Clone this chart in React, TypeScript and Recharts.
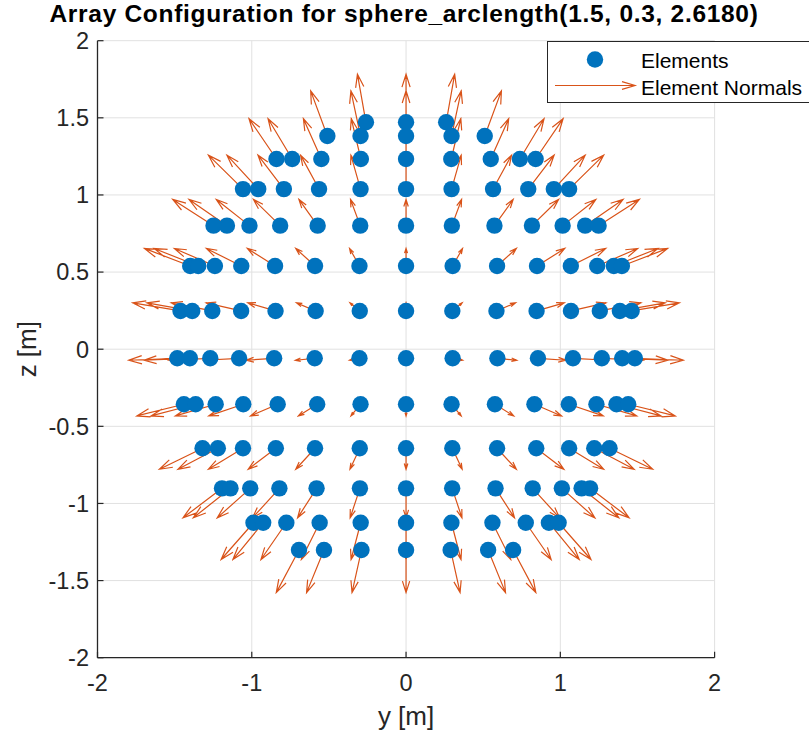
import { ComposedChart, Scatter, Line, XAxis, YAxis, CartesianGrid, Legend, Label } from "recharts";

const BLUE = "#0072BD";
const ORANGE = "#D95319";
const AXIS = "#262626";
const GRID = "#e1e1e1";
const FONT = '"Liberation Sans", Arial, Helvetica, sans-serif';

// z height of each ring of elements (top to bottom)
const ROW_Z = [1.471, 1.382, 1.233, 1.038, 0.801, 0.539, 0.248, -0.059, -0.357, -0.642, -0.902, -1.125, -1.302];

// y positions of the elements in each ring
const ROW_1 = [-0.26, 0, 0.26];
const ROW_2 = [-0.51, -0.295, 0, 0.295, 0.51];
const ROW_3 = [-0.84, -0.738, -0.549, -0.293, 0, 0.293, 0.549, 0.738, 0.84];
const ROW_4 = [-1.057, -0.958, -0.792, -0.564, -0.295, 0, 0.295, 0.564, 0.792, 0.958, 1.057];
const ROW_5 = [-1.248, -1.161, -1.015, -0.816, -0.573, -0.297, 0, 0.297, 0.573, 0.816, 1.015, 1.161, 1.248];
const ROW_6 = [-1.399, -1.347, -1.239, -1.068, -0.849, -0.59, -0.302, 0, 0.302, 0.59, 0.849, 1.068, 1.239, 1.347, 1.399];
const ROW_7 = [-1.462, -1.386, -1.256, -1.069, -0.846, -0.586, -0.3, 0, 0.3, 0.586, 0.846, 1.069, 1.256, 1.386, 1.462];
const ROW_8 = [-1.483, -1.401, -1.269, -1.082, -0.855, -0.592, -0.302, 0, 0.302, 0.592, 0.855, 1.082, 1.269, 1.401, 1.483];
const ROW_9 = [-1.44, -1.364, -1.234, -1.055, -0.832, -0.576, -0.295, 0, 0.295, 0.576, 0.832, 1.055, 1.234, 1.364, 1.44];
const ROW_10 = [-1.319, -1.22, -1.057, -0.844, -0.59, -0.3, 0, 0.3, 0.59, 0.844, 1.057, 1.22, 1.319];
const ROW_11 = [-1.193, -1.138, -1.01, -0.821, -0.58, -0.299, 0, 0.299, 0.58, 0.821, 1.01, 1.138, 1.193];
const ROW_12 = [-0.989, -0.926, -0.776, -0.56, -0.294, 0, 0.294, 0.56, 0.776, 0.926, 0.989];
const ROW_13 = [-0.694, -0.532, -0.289, 0, 0.289, 0.532, 0.694];

const ROWS_Y = [ROW_1, ROW_2, ROW_3, ROW_4, ROW_5, ROW_6, ROW_7, ROW_8, ROW_9, ROW_10, ROW_11, ROW_12, ROW_13];

const X_TICKS = [-2, -1, 0, 1, 2];
const Y_TICKS = [-2, -1.5, -1, -0.5, 0, 0.5, 1, 1.5, 2];

// sphere normal = position / radius; quiver draws it scaled
const NORMAL_SCALE = 0.212;
const HEAD_LEN = 0.27;
const HEAD_HALF = 0.085;

type Pt = { y: number | null; z: number | null };

const elements: Pt[] = ROWS_Y.flatMap((row, i) => row.map((y) => ({ y, z: ROW_Z[i] })));

// one polyline for all arrows, broken by null entries
const normals: Pt[] = elements.flatMap((p) => {
  const y = p.y as number;
  const z = p.z as number;
  const u = y * NORMAL_SCALE;
  const v = z * NORMAL_SCALE;
  const ty = y + u;
  const tz = z + v;
  const gap = { y: null, z: null };
  return [
    { y, z },
    { y: ty, z: tz },
    gap,
    { y: ty - HEAD_LEN * u - HEAD_HALF * v, z: tz - HEAD_LEN * v + HEAD_HALF * u },
    { y: ty, z: tz },
    { y: ty - HEAD_LEN * u + HEAD_HALF * v, z: tz - HEAD_LEN * v - HEAD_HALF * u },
    gap,
  ];
});

const Dot = (props: any) => <circle cx={props.cx} cy={props.cy} r={8.2} fill={BLUE} />;

const LegendBox = () => (
  <div
    style={{
      position: "relative",
      width: 275,
      height: 62,
      boxSizing: "border-box",
      border: `1px solid ${AXIS}`,
      background: "#fff",
      fontFamily: FONT,
      fontSize: 21,
      lineHeight: "21px",
      color: "#000",
      whiteSpace: "nowrap",
    }}
  >
    <svg width={92} height={60} style={{ position: "absolute", left: 0, top: 0 }}>
      <circle cx={47} cy={17.5} r={8.2} fill={BLUE} />
      <line x1={7} y1={43.5} x2={87} y2={43.5} stroke={ORANGE} strokeWidth={1.2} />
      <polyline points="74,39.7 87,43.5 74,47.3" fill="none" stroke={ORANGE} strokeWidth={1.2} />
    </svg>
    <span style={{ position: "absolute", left: 93, top: 8 }}>Elements</span>
    <span style={{ position: "absolute", left: 93, top: 35 }}>Element Normals</span>
  </div>
);

const ZLabel = ({ viewBox }: any) => {
  const cy = viewBox.y + viewBox.height / 2;
  return (
    <text
      x={36}
      y={cy}
      transform={`rotate(-90, 36, ${cy})`}
      textAnchor="middle"
      fontSize={26}
      fontFamily={FONT}
      fill={AXIS}
    >
      z [m]
    </text>
  );
};

export default function App() {
  return (
    <div
      style={{
        position: "absolute",
        left: 0,
        top: 0,
        width: 809,
        height: 733,
        overflow: "hidden",
        background: "#fff",
        fontFamily: FONT,
      }}
    >
      <div
        style={{
          position: "absolute",
          left: 4,
          top: 4.8,
          width: 800,
          textAlign: "center",
          fontSize: 24.5,
          letterSpacing: "0.7px",
          lineHeight: "18px",
          fontWeight: "bold",
          color: "#000",
          whiteSpace: "nowrap",
          zIndex: 2,
        }}
      >
        Array Configuration for sphere_arclength(1.5, 0.3, 2.6180)
      </div>
      <ComposedChart width={809} height={733} margin={{ top: 40.7, right: 94.4, bottom: 0, left: 0 }}>
        <CartesianGrid stroke={GRID} strokeWidth={1} />
        <XAxis
          type="number"
          dataKey="y"
          domain={[-2, 2]}
          ticks={X_TICKS}
          interval={0}
          allowDataOverflow
          height={75.3}
          tickSize={-6}
          tickMargin={22.3}
          tick={{ fontSize: 23.5, fill: AXIS, fontFamily: FONT }}
          tickLine={{ stroke: AXIS, strokeWidth: 1.2 }}
          axisLine={{ stroke: AXIS, strokeWidth: 1.3 }}
        >
          <Label value="y [m]" position="insideBottom" offset={8} fontSize={26} fontFamily={FONT} fill={AXIS} />
        </XAxis>
        <YAxis
          type="number"
          dataKey="z"
          domain={[-2, 2]}
          ticks={Y_TICKS}
          interval={0}
          allowDataOverflow
          width={97.5}
          tickSize={-6}
          tickMargin={14.5}
          tick={{ fontSize: 23.5, fill: AXIS, fontFamily: FONT }}
          tickLine={{ stroke: AXIS, strokeWidth: 1.2 }}
          axisLine={{ stroke: AXIS, strokeWidth: 1.3 }}
        >
          <Label content={<ZLabel />} />
        </YAxis>
        <Scatter name="Elements" data={elements} shape={<Dot />} isAnimationActive={false} />
        <Line
          name="Element Normals"
          data={normals}
          dataKey="z"
          type="linear"
          stroke={ORANGE}
          strokeWidth={1.2}
          dot={false}
          activeDot={false}
          connectNulls={false}
          isAnimationActive={false}
        />
        <Legend
          layout="vertical"
          align="center"
          verticalAlign="middle"
          wrapperStyle={{ top: 41, left: 547, width: 275, height: 62 }}
          content={<LegendBox />}
        />
      </ComposedChart>
    </div>
  );
}
